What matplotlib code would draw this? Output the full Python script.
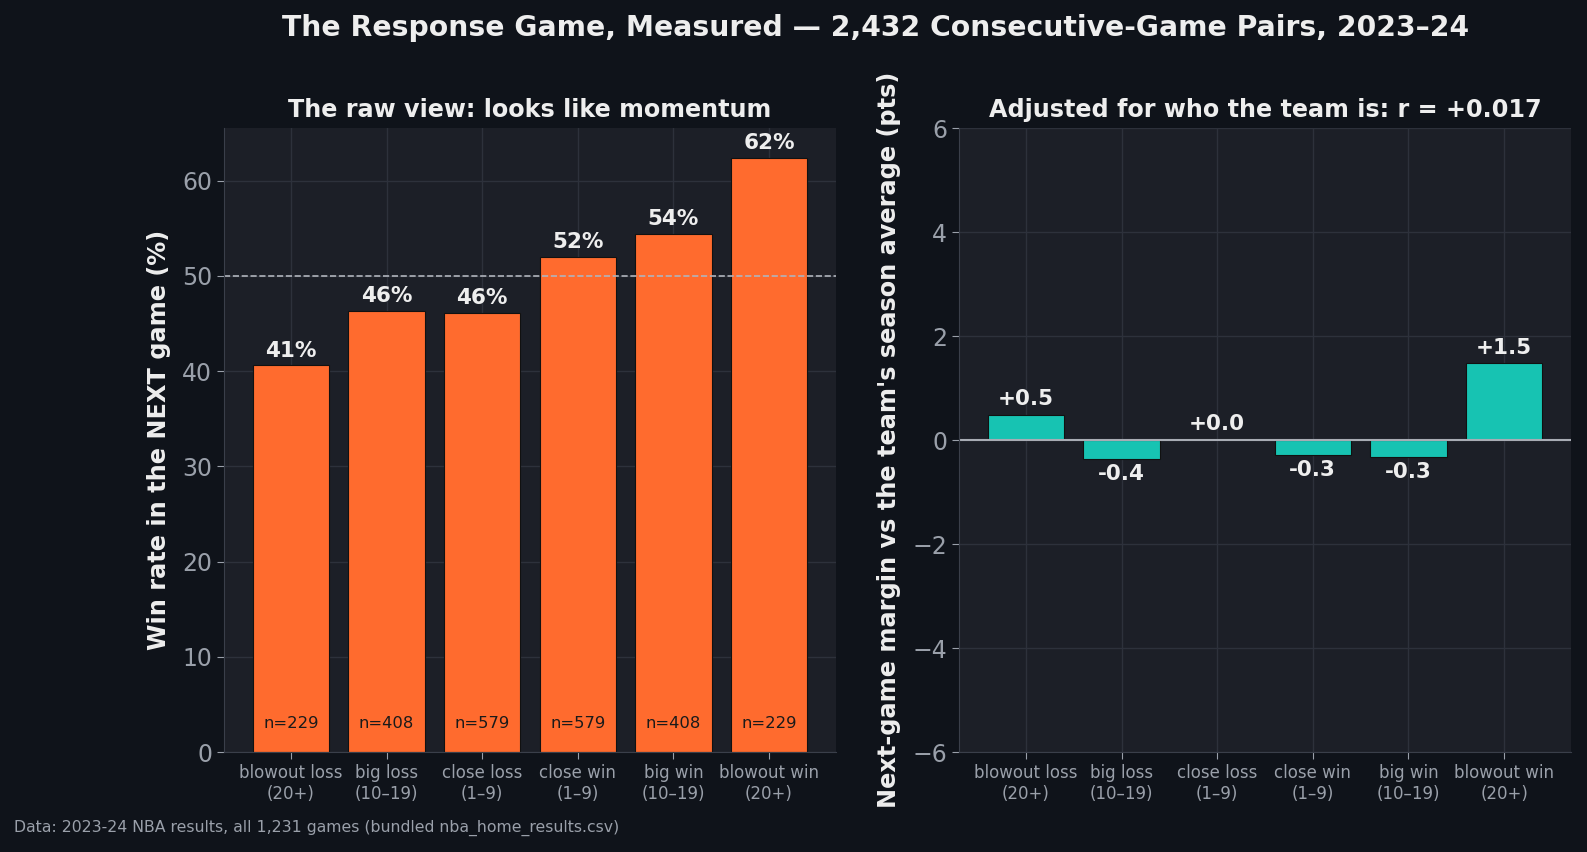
import numpy as np
import matplotlib
matplotlib.use('Agg')
from matplotlib import pyplot as plt

categories = ['blowout loss\n(20+)', 'big loss\n(10–19)', 'close loss\n(1–9)',
              'close win\n(1–9)', 'big win\n(10–19)', 'blowout win\n(20+)']
win_rate = [40.6, 46.3, 46.1, 52.0, 54.4, 62.4]
n_pairs = [229, 408, 579, 579, 408, 229]
margin_adj = [0.49, -0.37, 0.02, -0.29, -0.33, 1.48]

BG = '#0f131a'
PANEL = '#1c1f27'
GRID = '#2d313b'
TXT = '#eeeeee'
TICK = '#9aa0aa'
ORANGE = '#ff6b2e'
TEAL = '#17c3b2'

plt.rcParams['font.family'] = ['DejaVu Sans']

W, H = 1587, 852
fig = plt.figure(figsize=(W / 100, H / 100), dpi=100, facecolor=BG)
ax1 = fig.add_axes([224/W, 1-752/H, 612/W, 624/H])
ax2 = fig.add_axes([959/W, 1-752/H, 612/W, 624/H])

x = np.arange(len(categories))

for ax in (ax1, ax2):
    ax.set_facecolor(PANEL)
    ax.grid(True, color=GRID, linewidth=1)
    ax.set_axisbelow(True)
    for s in ax.spines.values():
        s.set_visible(False)
    ax.spines['left'].set_visible(True)
    ax.spines['bottom'].set_visible(True)
    ax.spines['left'].set_color('#3a3f4a')
    ax.spines['bottom'].set_color('#3a3f4a')
    ax.tick_params(axis='y', colors=TICK, labelsize=17, length=5)
    ax.tick_params(axis='x', colors=TICK, labelsize=12, length=5)
    ax.set_xticks(x)
    ax.set_xticklabels(categories)
    ax.set_xlim(-0.7, 5.7)

# left panel
ax1.bar(x, win_rate, width=0.8, color=ORANGE, edgecolor='#111111', linewidth=0.8)
ax1.axhline(50, color='#b0b4bc', linestyle='--', linewidth=1.2)
ax1.set_ylim(0, max(win_rate) * 1.05)
for xi, v, n in zip(x, win_rate, n_pairs):
    ax1.text(xi, v + 0.5, f'{v:.0f}%', ha='center', va='bottom', color=TXT,
             fontsize=15.5, fontweight='bold')
    ax1.text(xi, 2.2, f'n={n}', ha='center', va='bottom', color='#1a1a1a', fontsize=11.8)
ax1.set_title('The raw view: looks like momentum', color=TXT, fontsize=17.2,
              fontweight='bold', pad=8)
ax1.set_ylabel('Win rate in the NEXT game (%)', color=TXT, fontsize=17.3,
               fontweight='bold', labelpad=8)

# right panel
ax2.bar(x, margin_adj, width=0.8, color=TEAL, edgecolor='#111111', linewidth=0.8)
ax2.axhline(0, color='#a8acb4', linewidth=1.5, zorder=1)
ax2.set_ylim(-6, 6)
ax2.set_yticks([-6, -4, -2, 0, 2, 4, 6])
for xi, v in zip(x, margin_adj):
    if v >= 0:
        ax2.text(xi, v + 0.1, f'{v:+.1f}', ha='center', va='bottom', color=TXT,
                 fontsize=15.5, fontweight='bold')
    else:
        ax2.text(xi, v - 0.1, f'{v:+.1f}', ha='center', va='top', color=TXT,
                 fontsize=15.5, fontweight='bold')
ax2.set_title('Adjusted for who the team is: r = +0.017', color=TXT, fontsize=17.2,
              fontweight='bold', pad=8)
ax2.set_ylabel("Next-game margin vs the team's season average (pts)", color=TXT,
               fontsize=17.3, fontweight='bold', labelpad=8)

fig.suptitle('The Response Game, Measured — 2,432 Consecutive-Game Pairs, 2023–24',
             color=TXT, fontsize=20.3, fontweight='bold', x=876/W, y=1-28/H, va='center')
fig.text(14/W, 1-828/H,
         'Data: 2023-24 NBA results, all 1,231 games (bundled nba_home_results.csv)',
         color=TICK, fontsize=11.3, va='center')

fig.savefig('out.png', dpi=100, facecolor=BG)
